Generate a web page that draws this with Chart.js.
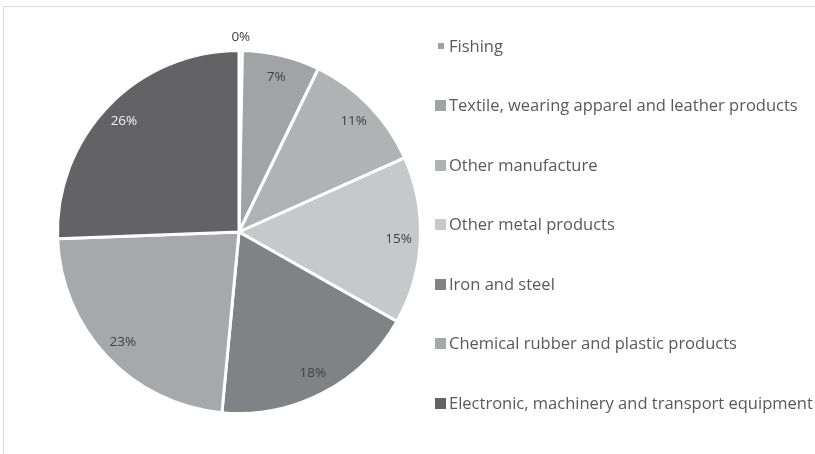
<!DOCTYPE html>
<html>
<head>
<meta charset="utf-8">
<style>
  html, body { margin: 0; padding: 0; background: #ffffff; }
  #wrap { position: relative; width: 815px; height: 454px; overflow: hidden; }
  canvas { display: block; }
</style>
<script src="https://cdn.jsdelivr.net/npm/chart.js@4/dist/chart.umd.min.js"></script>
</head>
<body>
<div id="wrap"><canvas id="pie" width="815" height="454"></canvas></div>
<script>
// Sector shares (%) in clockwise order starting from 12 o'clock
const categories = [
  'Fishing',
  'Textile, wearing apparel and leather products',
  'Other manufacture',
  'Other metal products',
  'Iron and steel',
  'Chemical rubber and plastic products',
  'Electronic, machinery and transport equipment'
];
const shares = [0.3, 6.9, 11.1, 14.9, 18.3, 22.9, 25.6];
const sliceColors = ['#a0a1a4', '#a2a3a6', '#b1b2b4', '#c7c8ca', '#808285', '#a7a8ab', '#636365'];

const FONT = '"Open Sans", "Noto Sans", sans-serif';

function isDark(hex) {
  const n = parseInt(hex.slice(1), 16);
  const r = (n >> 16) & 255, g = (n >> 8) & 255, b = n & 255;
  return (0.299 * r + 0.587 * g + 0.114 * b) < 110;
}

// Thin frame along the top and left edges
const framePlugin = {
  id: 'frame',
  beforeDraw(chart) {
    const ctx = chart.ctx;
    ctx.save();
    ctx.strokeStyle = '#dcdcdc';
    ctx.lineWidth = 1;
    ctx.beginPath();
    ctx.moveTo(3.5, chart.height);
    ctx.lineTo(3.5, 6.5);
    ctx.lineTo(chart.width, 6.5);
    ctx.stroke();
    ctx.restore();
  }
};

// Rounded percentage labels inside each slice near the rim; slivers get theirs outside
const sliceLabelPlugin = {
  id: 'sliceLabels',
  afterDatasetsDraw(chart) {
    const ctx = chart.ctx;
    const meta = chart.getDatasetMeta(0);
    const data = chart.data.datasets[0].data;
    const colors = chart.data.datasets[0].backgroundColor;
    ctx.save();
    ctx.font = '13.5px ' + FONT;
    ctx.textAlign = 'center';
    ctx.textBaseline = 'middle';
    meta.data.forEach((arc, i) => {
      const p = arc.getProps(['x', 'y', 'startAngle', 'endAngle', 'outerRadius'], true);
      const mid = (p.startAngle + p.endAngle) / 2;
      const pct = Math.round(data[i]);
      const outside = data[i] < 1;
      const r = outside ? p.outerRadius + 13 : p.outerRadius * 0.88;
      const x = p.x + Math.cos(mid) * r;
      const y = p.y + Math.sin(mid) * r;
      ctx.fillStyle = (!outside && isDark(colors[i])) ? '#f2f2f2' : '#404040';
      ctx.fillText(pct + '%', x, y);
    });
    ctx.restore();
  }
};

// Legend column to the right of the pie
const sideLegendPlugin = {
  id: 'sideLegend',
  afterDraw(chart) {
    const ctx = chart.ctx;
    const labels = chart.data.labels;
    const data = chart.data.datasets[0].data;
    const colors = chart.data.datasets[0].backgroundColor;
    const x0 = 440.5, y0 = 46, step = 59.5;
    ctx.save();
    ctx.font = '16.5px ' + FONT;
    ctx.textBaseline = 'middle';
    labels.forEach((lab, i) => {
      const y = y0 + i * step;
      const s = data[i] < 1 ? 6 : 11;
      ctx.fillStyle = colors[i];
      ctx.fillRect(Math.round(x0 - s / 2), Math.round(y - s / 2), s, s);
      ctx.fillStyle = '#58595b';
      ctx.fillText(lab, 449, y + 1);
    });
    ctx.restore();
  }
};

new Chart(document.getElementById('pie'), {
  type: 'pie',
  data: {
    labels: categories,
    datasets: [{
      data: shares,
      backgroundColor: sliceColors,
      borderColor: '#ffffff',
      borderWidth: 3
    }]
  },
  options: {
    responsive: false,
    devicePixelRatio: 1,
    animation: false,
    layout: { padding: { left: 56, right: 393, top: 49, bottom: 39 } },
    plugins: {
      legend: { display: false },
      tooltip: { enabled: false }
    }
  },
  plugins: [framePlugin, sliceLabelPlugin, sideLegendPlugin]
});
</script>
</body>
</html>
